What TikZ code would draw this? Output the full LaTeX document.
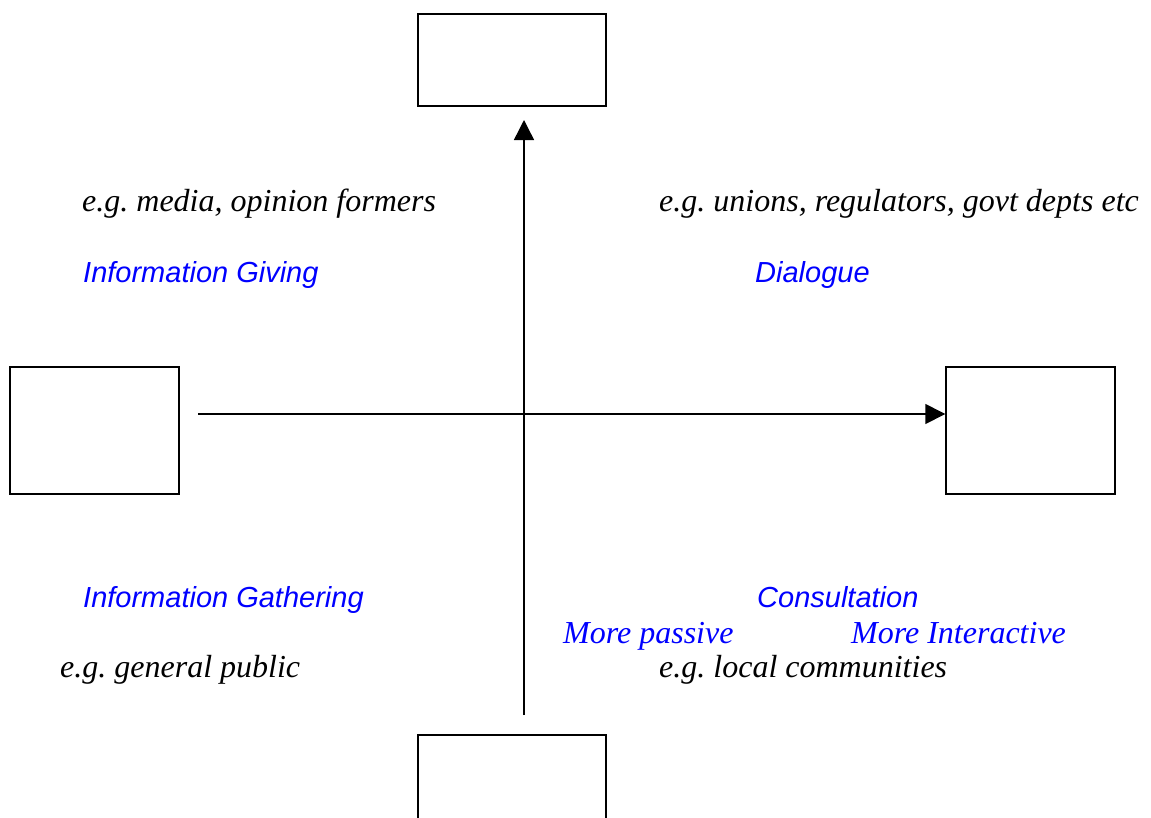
\documentclass[tikz,border=0pt]{standalone}
\usepackage{fontspec}
\setmainfont{Liberation Serif}
\setsansfont{Liberation Sans}
\frenchspacing
\usetikzlibrary{
    arrows.meta,
    positioning
}
\definecolor{labelblue}{RGB}{0,0,255}
\tikzset {
    plain box/.style = {draw, line width = 1.4pt, inner sep = 0pt},
    axis line/.style = {line width = 1.4pt, arrows = {-Triangle[length = 20pt, width = 20pt]}},
    example text/.style = {anchor = base west, inner sep = 0pt, font = \fontsize{32}{36}\selectfont\itshape},
    mode text/.style = {anchor = base west, inner sep = 0pt, text = labelblue, font = \fontsize{29}{34}\selectfont\sffamily\itshape},
    scale text/.style = {anchor = base west, inner sep = 0pt, text = labelblue, font = \fontsize{32}{36}\selectfont\itshape}
}
\begin{document}
\begin{tikzpicture}[x = 1pt, y = -1pt]
            \useasboundingbox (0, 0) rectangle (1151, 817);
            \clip (0, 0) rectangle (1151, 817);
            % boxes
            \node (top) [plain box, minimum width = 188pt, minimum height = 92pt] at (512, 60) {};
            \node (left) [plain box, minimum width = 169pt, minimum height = 127pt] at (94.5, 430.5) {};
            \node (right) [plain box, minimum width = 169pt, minimum height = 127pt] at (1030.5, 430.5) {};
            \node (bottom) [plain box, minimum width = 188pt, minimum height = 110pt] at (512, 790) {};
            % axes
            \coordinate (vstart) at (524, 715);
            \coordinate (vend) at (524, 120);
            \coordinate (hstart) at (198, 414);
            \draw [axis line] (vstart) -- (vend);
            \draw [axis line] (hstart) -- (right.west |- hstart);
            % quadrant texts
            \node (egmedia) [example text] at (82, 211) {e.g. media, opinion formers};
            \node (egunions) [example text] at (659, 211) {e.g. unions, regulators, govt depts etc};
            \node (giving) [mode text] at (83, 282) {Information Giving};
            \node (dialogue) [mode text] at (755, 282) {Dialogue};
            \node (gathering) [mode text] at (83, 607) {Information Gathering};
            \node (consult) [mode text] at (757, 607) {Consultation};
            \node (passive) [scale text] at (563, 643) {More passive};
            \node (interactive) [scale text] at (851, 643) {More Interactive};
            \node (egpublic) [example text] at (60, 677) {e.g. general public};
            \node (eglocal) [example text] at (659, 677) {e.g. local communities};
        \end{tikzpicture}
\end{document}
